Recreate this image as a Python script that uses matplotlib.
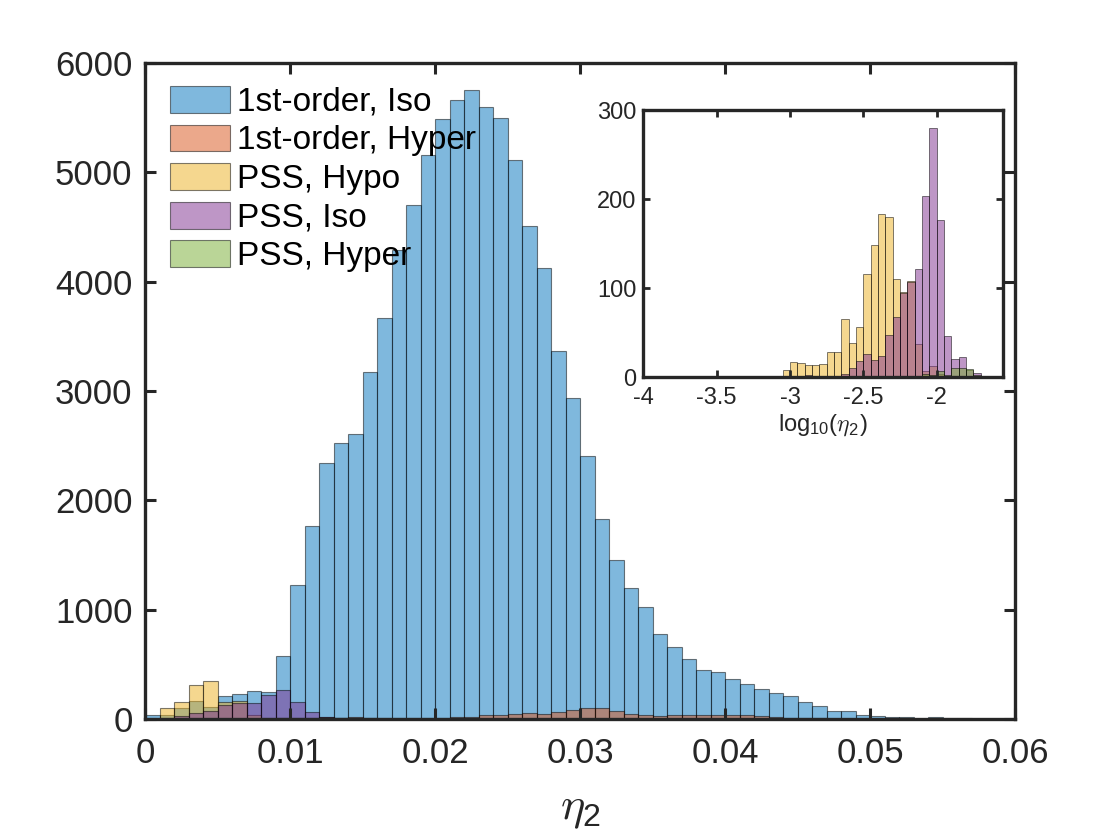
import numpy as np
import matplotlib
matplotlib.use('Agg')
import matplotlib.pyplot as plt

plt.rcParams['font.family'] = ['Liberation Sans', 'DejaVu Sans']
plt.rcParams['mathtext.fontset'] = 'cm'
plt.rcParams['axes.unicode_minus'] = False

# bin edges of the two histograms
edges = np.round(np.arange(0, 0.0605, 0.001), 4)
log_edges = np.round(np.arange(-4, -1.499, 0.05), 3)

labels = ['1st-order, Iso', '1st-order, Hyper', 'PSS, Hypo', 'PSS, Iso', 'PSS, Hyper']
colors = ['#0072BD', '#D95319', '#EDB120', '#7E2F8E', '#77AC30']

# counts per bin (main plot, bin width 0.001)
first_iso = [34, 37, 98, 162, 107, 208, 230, 254, 245, 578,
             1223, 1763, 2338, 2529, 2603, 3170, 3667, 4288, 4699, 5160,
             5484, 5660, 5750, 5594, 5500, 5109, 4507, 4124, 3362, 2932,
             2404, 1833, 1454, 1196, 1024, 782, 657, 547, 453, 426,
             364, 317, 278, 242, 207, 160, 117, 74, 74, 36,
             30, 21, 15, 3, 18, 5, 5, 2, 1, 0]
first_hyper = [0, 0, 0, 0, 0, 3, 3, 3, 0, 0,
               0, 0, 15, 6, 15, 6, 6, 6, 6, 6,
               6, 15, 15, 34, 34, 43, 58, 49, 67, 79,
               98, 98, 76, 49, 40, 24, 40, 40, 34, 40,
               34, 34, 24, 15, 6, 6, 6, 2, 2, 1,
               1, 0, 0, 0, 0, 0, 0, 0, 0, 0]
pss_hypo = [0, 98, 153, 309, 352, 156, 162, 40, 10, 5] + [0] * 50
pss_iso = [0, 5, 28, 55, 73, 128, 150, 144, 217, 263,
           153, 61, 21, 10, 5] + [0] * 45
pss_hyper = [0, 0, 0, 0, 0, 0, 0, 0, 3, 5,
             8, 5, 10, 10, 8, 6, 4, 2, 1] + [0] * 41

# counts per bin (inset, log10 scale, bin width 0.05)
log_hypo = [0, 0, 1, 1, 0, 1, 0, 0, 1, 0,
            1, 0, 1, 0, 1, 1, 0, 1, 1, 8,
            17, 16, 14, 14, 15, 28, 28, 65, 39, 57,
            116, 148, 183, 180, 110, 96, 108, 37, 7, 13,
            4, 0, 0, 0, 0, 0, 0, 0, 0, 0]
log_iso = [0, 0, 0, 0, 0, 0, 0, 0, 2, 0,
           0, 0, 0, 0, 0, 0, 0, 0, 0, 0,
           0, 0, 3, 0, 1, 0, 1, 4, 10, 18,
           26, 20, 24, 47, 68, 95, 107, 122, 203, 280,
           177, 46, 21, 23, 8, 5, 2, 1, 0, 0]
log_hyper = [0] * 31 + [1, 1, 1, 2, 2, 1, 2, 4, 3,
                        7, 3, 10, 11, 9, 3, 1, 0, 0, 0]

main_series = [first_iso, first_hyper, pss_hypo, pss_iso, pss_hyper]
log_series = [None, None, log_hypo, log_iso, log_hyper]

txt = '#262626'
fig = plt.figure(figsize=(11.2, 8.4), dpi=100)
ax = fig.add_axes([0.1295, 0.144, 0.7768, 0.781])

for i in range(len(labels)):
    ax.hist(edges[:-1], bins=edges, weights=main_series[i], color=colors[i],
            alpha=0.5, edgecolor='k', linewidth=0.8, label=labels[i])

ax.set_xlim(0, 0.06)
ax.set_ylim(0, 6000)
ax.set_xticks([0, 0.01, 0.02, 0.03, 0.04, 0.05, 0.06])
ax.set_xticklabels(['0', '0.01', '0.02', '0.03', '0.04', '0.05', '0.06'])
ax.set_yticks([0, 1000, 2000, 3000, 4000, 5000, 6000])
ax.tick_params(direction='in', top=True, right=True, length=8, width=2.2,
               labelsize=25, colors=txt)
ax.tick_params(axis='x', pad=13)
ax.tick_params(axis='y', pad=9)
for s in ax.spines.values():
    s.set_linewidth(2.4)
    s.set_color(txt)
ax.set_xlabel(r'$\eta_\mathregular{2}$', fontsize=33, color=txt, labelpad=12)

leg = ax.legend(loc='upper left', bbox_to_anchor=(0.029, 0.965), frameon=False,
                fontsize=24, handlelength=1.8, handleheight=0.86,
                handletextpad=0.2, labelspacing=0.2, borderpad=0, borderaxespad=0)
for t in leg.get_texts():
    t.set_color('k')

# inset with log10 values
ins = fig.add_axes([0.5744, 0.5508, 0.3209, 0.3182])
for i in range(2, len(labels)):
    ins.hist(log_edges[:-1], bins=log_edges, weights=log_series[i], color=colors[i],
             alpha=0.5, edgecolor='k', linewidth=0.7)
ins.set_xlim(-4, -1.55)
ins.set_ylim(0, 300)
ins.set_xticks([-4, -3.5, -3, -2.5, -2])
ins.set_xticklabels(['-4', '-3.5', '-3', '-2.5', '-2'])
ins.set_yticks([0, 100, 200, 300])
ins.tick_params(direction='in', top=True, right=True, length=5, width=2,
                labelsize=17, colors=txt)
ins.tick_params(axis='x', pad=7)
ins.tick_params(axis='y', pad=5)
for s in ins.spines.values():
    s.set_linewidth(2.4)
    s.set_color(txt)
ins.set_xlabel(r'log$\mathregular{_{10}}$($\eta_\mathregular{2}$)', fontsize=17,
               color=txt, labelpad=2)

fig.savefig('out.png', dpi=100)
